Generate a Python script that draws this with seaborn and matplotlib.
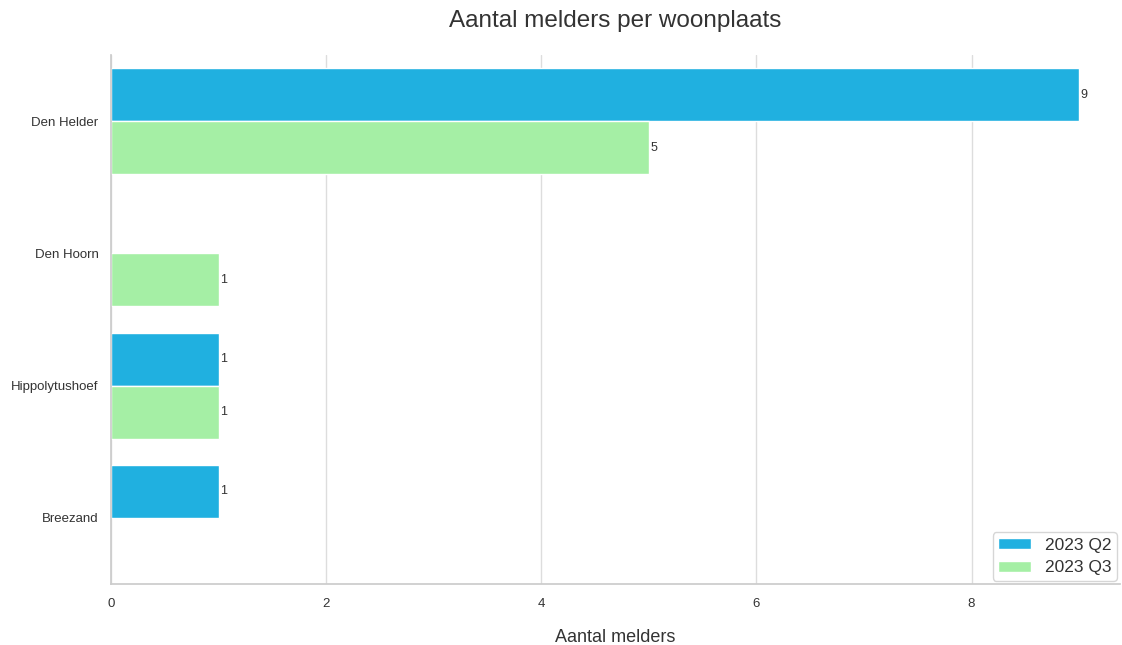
import pandas as pd
import numpy as np
import matplotlib.pyplot as plt
import seaborn as sns

# Data
woonplaatsen = ["Den Helder", "Den Hoorn", "Hippolytushoef", "Breezand"]
kwartalen = ["2023 Q2", "2023 Q3"]
q2_melders = [9, np.nan, 1, 1]
q3_melders = [5, 1, 1, np.nan]
kleuren = ["#20b0e0", "#a5efa5"]

df = pd.DataFrame({
    "woonplaats": woonplaatsen * 2,
    "kwartaal": [kwartalen[0]] * 4 + [kwartalen[1]] * 4,
    "melders": q2_melders + q3_melders,
}).dropna()

sns.set_theme(style="whitegrid")
plt.rcParams['font.family'] = ['Liberation Sans', 'DejaVu Sans']

fig = plt.figure(figsize=(11.22, 6.45), dpi=100)
ax = fig.add_axes([111 / 1122, 61 / 645, 1009 / 1122, 529 / 645])

sns.barplot(data=df, x="melders", y="woonplaats", hue="kwartaal",
            order=woonplaatsen, hue_order=kwartalen,
            palette=kleuren, orient="h", ax=ax, saturation=1)

for c in ax.containers:
    ax.bar_label(c, fmt="%g", fontsize=9, color="#333333", padding=1)

ax.set_xlim(0, 9.38)
ax.set_ylim(3.5, -0.5)
ax.set_ylabel("")
ax.set_xlabel("Aantal melders", fontsize=13, color="#333333", labelpad=14)
ax.set_title("Aantal melders per woonplaats", fontsize=17.5, color="#333333", pad=20)
ax.tick_params(axis="both", labelsize=9.5, colors="#333333", length=0)
ax.tick_params(axis="x", pad=10)
ax.tick_params(axis="y", pad=9)
for lbl in ax.get_yticklabels():
    lbl.set_y(lbl.get_position()[1])
ax.xaxis.grid(True, color="#dddddd")
ax.yaxis.grid(False)
sns.despine(ax=ax)
for s in ["left", "bottom"]:
    ax.spines[s].set_color("#cccccc")

leg = ax.legend(loc="lower right", fontsize=12.5, frameon=True, borderaxespad=0.2,
                handlelength=1.9, handleheight=0.6, labelspacing=0.45, borderpad=0.3)
for t in leg.get_texts():
    t.set_color("#333333")

fig.savefig("out.png", dpi=100)
